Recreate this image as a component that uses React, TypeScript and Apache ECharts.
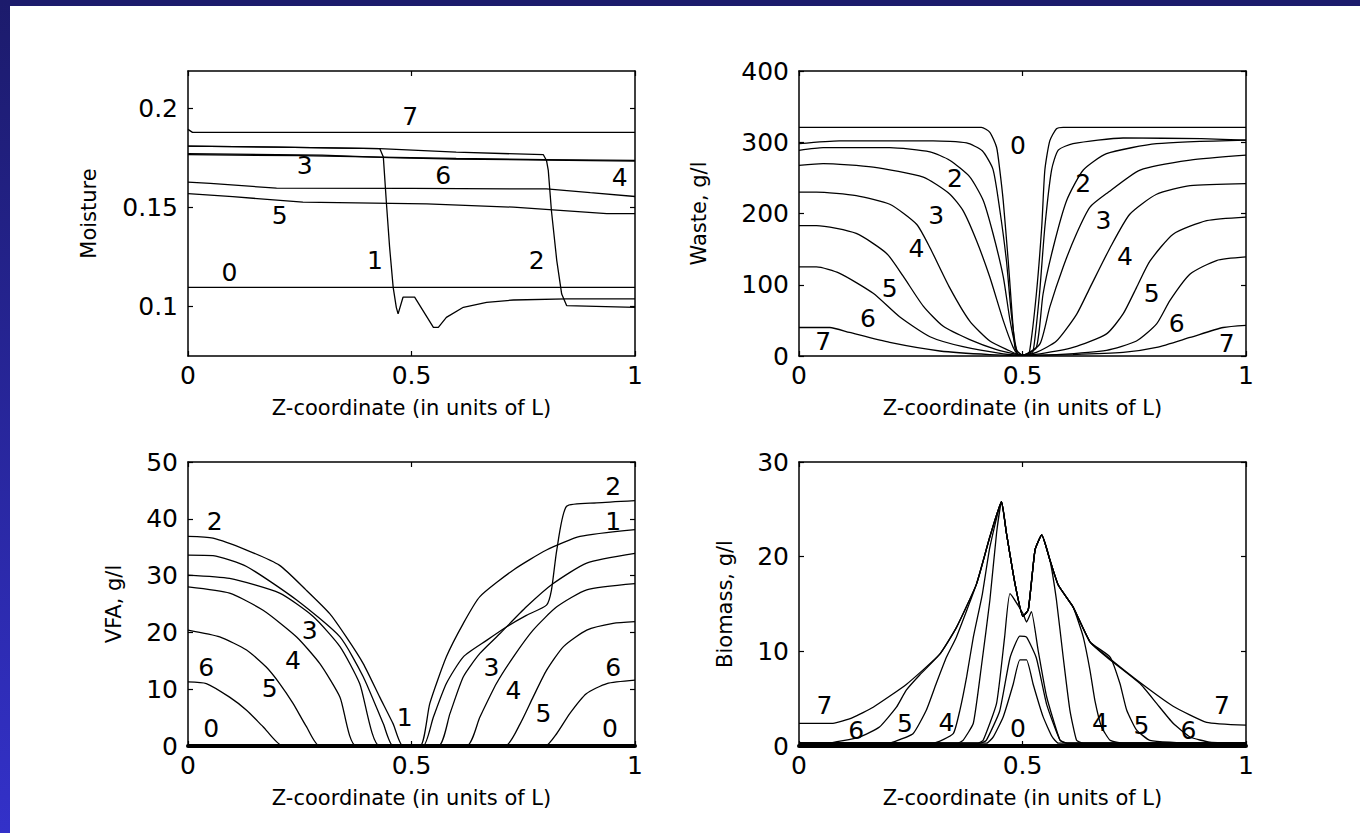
import React, { useEffect, useRef } from "react";
import * as echarts from "echarts";

// ---------- data ----------
const xTicks = [0, 0.5, 1];
const moistureTicks = [0.1, 0.15, 0.2];
const wasteTicks = [0, 100, 200, 300, 400];
const vfaTicks = [0, 10, 20, 30, 40, 50];
const biomassTicks = [0, 10, 20, 30];

// Moisture
const moisture0 = [[0, 0.1097], [1, 0.1097]];
const moisture1 = [[0, 0.181], [0.2, 0.1805], [0.35, 0.18], [0.429, 0.1798], [0.437, 0.1755], [0.44, 0.1654], [0.444, 0.1519], [0.451, 0.13], [0.459, 0.1097], [0.466, 0.0996], [0.47, 0.0963], [0.481, 0.1047], [0.507, 0.1047], [0.549, 0.0895], [0.56, 0.0895], [0.578, 0.0945], [0.616, 0.0996], [0.668, 0.1021], [0.728, 0.1033], [0.847, 0.1039], [1, 0.1039]];
const moisture2 = [[0, 0.181], [0.2, 0.1805], [0.429, 0.1798], [0.6, 0.178], [0.795, 0.1767], [0.802, 0.1738], [0.806, 0.1688], [0.813, 0.1485], [0.825, 0.1232], [0.836, 0.1063], [0.847, 0.1005], [1, 0.0996]];
const moisture3 = [[0, 0.1767], [0.25, 0.1762], [0.43, 0.1755], [0.6, 0.1748], [0.8, 0.1742], [1, 0.1738]];
const moisture4 = [[0, 0.1772], [0.3, 0.1765], [0.45, 0.1752], [0.6, 0.1745], [0.8, 0.174], [1, 0.1735]];
const moisture5 = [[0, 0.157], [0.1, 0.1555], [0.257, 0.1527], [0.534, 0.1519], [0.728, 0.1502], [0.937, 0.1469], [1, 0.1469]];
const moisture6 = [[0, 0.1629], [0.05, 0.1622], [0.198, 0.1598], [0.5, 0.1597], [0.802, 0.1594], [0.9, 0.1575], [1, 0.1556]];
const moisture7 = [[0, 0.1895], [0.01, 0.188], [1, 0.188]];
const moistureLabels = [[0.497, 0.1958, "7"], [0.261, 0.1713, "3"], [0.571, 0.1662, "6"], [0.966, 0.1654, "4"], [0.205, 0.146, "5"], [0.418, 0.1232, "1"], [0.78, 0.1232, "2"], [0.093, 0.1173, "0"]];

// Waste
const waste0 = [[0, 321], [0.408, 321], [0.427, 314], [0.442, 293], [0.449, 262], [0.457, 217], [0.468, 134], [0.475, 74], [0.483, 12], [0.49, 2], [0.5, 1], [0.51, 2], [0.516, 7], [0.531, 87], [0.543, 181], [0.55, 261], [0.561, 302], [0.576, 319], [0.591, 321], [1, 321]];
const waste1 = [[0, 298], [0.09, 302], [0.3, 302], [0.375, 299], [0.41, 288], [0.434, 262], [0.449, 206], [0.464, 134], [0.475, 59], [0.487, 8], [0.5, 1], [0.516, 3], [0.524, 7], [0.538, 87], [0.55, 181], [0.565, 261], [0.58, 289], [0.613, 298], [0.725, 306], [0.9, 305], [1, 303]];
const waste2 = [[0, 288.7], [0.054, 292.5], [0.203, 292.5], [0.293, 286.5], [0.337, 274.8], [0.382, 251.4], [0.412, 218.6], [0.434, 171.9], [0.457, 111.1], [0.472, 50.3], [0.487, 8], [0.5, 1], [0.531, 12], [0.546, 87], [0.569, 153], [0.599, 218.6], [0.636, 261], [0.688, 284], [0.8, 298], [1, 303]];
const waste3 = [[0, 267.6], [0.054, 270], [0.166, 265], [0.278, 251], [0.337, 227.5], [0.367, 204], [0.397, 162], [0.427, 110.5], [0.457, 49.7], [0.479, 12.3], [0.49, 2], [0.5, 1], [0.539, 17], [0.561, 68.6], [0.591, 125], [0.621, 172], [0.651, 209], [0.688, 228], [0.763, 261], [0.875, 275], [1, 282]];
const waste4 = [[0, 230], [0.039, 230], [0.128, 225], [0.203, 213], [0.263, 185], [0.293, 152], [0.337, 96], [0.382, 49], [0.427, 21], [0.472, 7], [0.49, 2], [0.5, 1], [0.531, 5], [0.576, 21], [0.621, 58.5], [0.651, 96], [0.696, 152], [0.74, 199], [0.8, 227], [0.875, 239], [1, 242]];
const waste5 = [[0, 183], [0.039, 183], [0.128, 172], [0.196, 144], [0.233, 112], [0.278, 70], [0.322, 42], [0.382, 23], [0.442, 9], [0.49, 2], [0.5, 1], [0.539, 3], [0.613, 12], [0.688, 31], [0.725, 59], [0.755, 96], [0.785, 133], [0.837, 171], [0.912, 190], [1, 195]];
const waste6 = [[0, 125], [0.039, 125], [0.091, 116], [0.166, 88], [0.225, 55], [0.293, 27], [0.367, 13], [0.457, 3], [0.5, 1], [0.576, 2], [0.688, 8], [0.755, 21], [0.8, 45], [0.83, 78], [0.875, 115], [0.934, 134], [1, 139]];
const waste7 = [[0, 40], [0.069, 40], [0.113, 33], [0.203, 19], [0.315, 7], [0.427, 2], [0.5, 1], [0.613, 2], [0.725, 5], [0.8, 12], [0.875, 26], [0.949, 40], [1, 43]];
const wasteLabels = [[0.49, 295.7, "0"], [0.349, 249, "2"], [0.636, 242, "2"], [0.307, 197, "3"], [0.681, 190, "3"], [0.263, 150.7, "4"], [0.729, 139, "4"], [0.203, 94.6, "5"], [0.789, 87.5, "5"], [0.154, 52.5, "6"], [0.845, 45.5, "6"], [0.054, 19.7, "7"], [0.957, 17.3, "7"]];

// VFA
const vfa0 = [[0, 0], [1, 0]];
const vfa1 = [[0, 33.6], [0.056, 33.5], [0.131, 31.6], [0.243, 25.7], [0.34, 19.2], [0.392, 12.2], [0.437, 3.9], [0.459, 0], [0.519, 0], [0.541, 7.5], [0.578, 15.7], [0.616, 21.6], [0.653, 26.3], [0.728, 31], [0.802, 34.5], [0.877, 36.9], [1, 38.1]];
const vfa2 = [[0, 36.9], [0.056, 36.6], [0.131, 34.5], [0.205, 31.8], [0.265, 27.4], [0.317, 23.3], [0.354, 19.2], [0.392, 14.5], [0.429, 8.6], [0.459, 3.9], [0.481, 0], [0.526, 0], [0.549, 5.1], [0.578, 11], [0.616, 15.7], [0.668, 18.6], [0.713, 21], [0.757, 23], [0.802, 24.8], [0.813, 27.4], [0.825, 34.5], [0.847, 42.2], [0.914, 42.8], [1, 43.2]];
const vfa3 = [[0, 30.1], [0.093, 29.5], [0.205, 26.9], [0.28, 22.8], [0.34, 17.5], [0.384, 11], [0.429, 0], [0.56, 0], [0.586, 5.7], [0.616, 12.2], [0.653, 16.3], [0.698, 19.8], [0.757, 24.5], [0.817, 28.6], [0.892, 32.2], [1, 33.9]];
const vfa4 = [[0, 28], [0.093, 26.9], [0.168, 23.9], [0.243, 19.2], [0.295, 14.5], [0.34, 8.6], [0.377, 0], [0.623, 0], [0.653, 5.1], [0.69, 11], [0.728, 15.7], [0.772, 20.4], [0.825, 24.5], [0.892, 27.5], [1, 28.6]];
const vfa5 = [[0, 20.4], [0.071, 19.2], [0.131, 16.9], [0.175, 13.9], [0.205, 11], [0.235, 7.5], [0.265, 3.4], [0.295, 0], [0.709, 0], [0.743, 3.9], [0.772, 8.6], [0.802, 13.3], [0.84, 17.5], [0.892, 20.4], [0.951, 21.6], [1, 21.9]];
const vfa6 = [[0, 11.3], [0.041, 11], [0.093, 8.6], [0.131, 6.3], [0.168, 3.4], [0.213, 0], [0.799, 0], [0.825, 2.2], [0.854, 5.7], [0.891, 9.2], [0.937, 11], [1, 11.6]];
const vfaLabels = [[0.06, 39.5, "2"], [0.951, 45.7, "2"], [0.951, 39.5, "1"], [0.272, 20.4, "3"], [0.235, 15.1, "4"], [0.183, 10.1, "5"], [0.041, 13.9, "6"], [0.052, 3.1, "0"], [0.485, 5.1, "1"], [0.679, 13.9, "3"], [0.728, 9.8, "4"], [0.795, 5.7, "5"], [0.951, 13.9, "6"], [0.944, 3.1, "0"]];

// Biomass
const bio0 = [[0, 0.3], [0.42, 0.3], [0.435, 1], [0.457, 3.1], [0.479, 6.5], [0.494, 9.1], [0.509, 9.1], [0.524, 6.5], [0.546, 3.1], [0.566, 1], [0.58, 0.3], [1, 0.3]];
const bio1 = [[0, 0.3], [0.405, 0.3], [0.419, 0.6], [0.449, 3.7], [0.472, 9.3], [0.494, 11.6], [0.509, 11.5], [0.531, 9.3], [0.554, 4.4], [0.584, 0.6], [0.6, 0.3], [1, 0.3]];
const bio2 = [[0, 0.3], [0.4, 0.3], [0.412, 0.6], [0.442, 4.5], [0.46, 11.5], [0.472, 16.1], [0.501, 14], [0.509, 13.1], [0.52, 14.2], [0.535, 10.1], [0.554, 5.2], [0.584, 0.6], [0.6, 0.3], [1, 0.3]];
const bio3 = [[0, 0.3], [0.355, 0.3], [0.367, 0.6], [0.39, 2.4], [0.408, 8.4], [0.427, 15.4], [0.442, 22.5], [0.453, 25.8], [0.464, 22.5], [0.483, 17.2], [0.501, 13.7], [0.513, 14.4], [0.528, 20.7], [0.543, 22.3], [0.561, 19.7], [0.576, 15.4], [0.591, 9.4], [0.606, 3.8], [0.621, 0.6], [0.636, 0.3], [1, 0.3]];
const bio4 = [[0, 0.3], [0.3, 0.3], [0.345, 1.3], [0.36, 3.8], [0.375, 7.3], [0.39, 11.5], [0.41, 16], [0.427, 21], [0.453, 25.8], [0.464, 22.5], [0.483, 17.2], [0.501, 13.7], [0.513, 14.4], [0.528, 20.7], [0.543, 22.3], [0.561, 19.7], [0.58, 17], [0.613, 14.7], [0.621, 13.7], [0.636, 11.5], [0.651, 8], [0.662, 4.8], [0.677, 2], [0.696, 0.6], [0.725, 0.3], [1, 0.3]];
const bio5 = [[0, 0.3], [0.2, 0.3], [0.21, 0.4], [0.255, 1.3], [0.285, 3.8], [0.307, 6.6], [0.33, 9.4], [0.352, 11.5], [0.397, 17.1], [0.427, 22.1], [0.453, 25.8], [0.464, 22.5], [0.483, 17.2], [0.501, 13.7], [0.513, 14.4], [0.528, 20.7], [0.543, 22.3], [0.561, 19.7], [0.58, 17], [0.613, 14.7], [0.651, 11], [0.696, 9.4], [0.718, 6.6], [0.733, 3.8], [0.755, 1.7], [0.785, 0.6], [0.875, 0.3], [1, 0.3]];
const bio6 = [[0, 0.3], [0.061, 0.3], [0.136, 0.95], [0.18, 2], [0.218, 4.1], [0.24, 5.9], [0.27, 7.5], [0.315, 9.7], [0.352, 12.5], [0.397, 17.1], [0.427, 22.1], [0.453, 25.8], [0.464, 22.5], [0.483, 17.2], [0.501, 13.7], [0.513, 14.4], [0.528, 20.7], [0.543, 22.3], [0.561, 19.7], [0.58, 17], [0.613, 14.7], [0.651, 11], [0.688, 9.4], [0.763, 6.6], [0.8, 4.5], [0.837, 2.4], [0.875, 0.95], [0.919, 0.4], [1, 0.3]];
const bio7 = [[0, 2.4], [0.076, 2.4], [0.12, 3], [0.166, 4.1], [0.24, 6.5], [0.315, 9.7], [0.352, 12.5], [0.397, 17.1], [0.427, 22.1], [0.453, 25.8], [0.464, 22.5], [0.483, 17.2], [0.501, 13.7], [0.513, 14.4], [0.528, 20.7], [0.543, 22.3], [0.561, 19.7], [0.58, 17], [0.613, 14.7], [0.651, 11], [0.688, 9.5], [0.763, 6.7], [0.837, 4.2], [0.912, 2.5], [1, 2.2]];
const bioLabels = [[0.057, 4.3, "7"], [0.128, 1.66, "6"], [0.237, 2.4, "5"], [0.33, 2.5, "4"], [0.49, 1.8, "0"], [0.673, 2.5, "4"], [0.766, 2.2, "5"], [0.871, 1.66, "6"], [0.946, 4.3, "7"]];

const xName = "Z-coordinate (in units of L)";

const panels = [
  { yName: "Moisture", min: 0.075, max: 0.219, ticks: moistureTicks, curves: [moisture0, moisture1, moisture2, moisture3, moisture4, moisture5, moisture6, moisture7], labels: moistureLabels },
  { yName: "Waste, g/l", min: 0, max: 400, ticks: wasteTicks, curves: [waste0, waste1, waste2, waste3, waste4, waste5, waste6, waste7], labels: wasteLabels },
  { yName: "VFA, g/l", min: 0, max: 50, ticks: vfaTicks, curves: [vfa0, vfa1, vfa2, vfa3, vfa4, vfa5, vfa6], labels: vfaLabels },
  { yName: "Biomass, g/l", min: 0, max: 30, ticks: biomassTicks, curves: [bio0, bio1, bio2, bio3, bio4, bio5, bio6, bio7], labels: bioLabels },
];

// ---------- layout / style ----------
const layouts = [
  { left: 188, top: 71, width: 447, height: 285, nameGap: 89, bottomLine: 1.5, smooth: 0 },
  { left: 799, top: 71, width: 447, height: 285, nameGap: 90, bottomLine: 1.5, smooth: 0.2 },
  { left: 188, top: 462, width: 447, height: 284, nameGap: 64, bottomLine: 4, smooth: 0.2 },
  { left: 799, top: 462, width: 447, height: 284, nameGap: 64, bottomLine: 4, smooth: 0.15 },
];
const FONT = "DejaVu Sans";
const BLACK = "#000";

function buildOption() {
  const grid: any[] = [];
  const xAxis: any[] = [];
  const yAxis: any[] = [];
  const series: any[] = [];
  panels.forEach((p, i) => {
    const L = layouts[i];
    grid.push({ left: L.left, top: L.top, width: L.width, height: L.height, containLabel: false });
    const tick = { show: true, inside: true, length: 5, lineStyle: { color: BLACK, width: 1.2 } };
    xAxis.push({
      type: "value", gridIndex: i, position: "bottom", min: 0, max: 1, interval: 0.5,
      name: xName, nameLocation: "middle", nameGap: 41,
      nameTextStyle: { color: BLACK, fontSize: 21, fontFamily: FONT },
      axisLine: { show: true, onZero: false, lineStyle: { color: BLACK, width: L.bottomLine } },
      axisTick: { ...tick, customValues: xTicks },
      axisLabel: { color: BLACK, fontSize: 25, fontFamily: FONT, margin: 7, customValues: xTicks, formatter: (v: number) => String(v) },
      splitLine: { show: false },
    });
    xAxis.push({
      type: "value", gridIndex: i, position: "top", min: 0, max: 1, interval: 0.5,
      axisLine: { show: true, onZero: false, lineStyle: { color: BLACK, width: 1.5 } },
      axisTick: { ...tick, customValues: xTicks },
      axisLabel: { show: false },
      splitLine: { show: false },
    });
    yAxis.push({
      type: "value", gridIndex: i, position: "left", min: p.min, max: p.max,
      name: p.yName, nameLocation: "middle", nameGap: L.nameGap,
      nameTextStyle: { color: BLACK, fontSize: 21, fontFamily: FONT },
      axisLine: { show: true, onZero: false, lineStyle: { color: BLACK, width: 1.5 } },
      axisTick: { ...tick, customValues: p.ticks },
      axisLabel: { color: BLACK, fontSize: 25, fontFamily: FONT, margin: 10, customValues: p.ticks, formatter: (v: number) => String(v) },
      splitLine: { show: false },
    });
    yAxis.push({
      type: "value", gridIndex: i, position: "right", min: p.min, max: p.max,
      axisLine: { show: true, onZero: false, lineStyle: { color: BLACK, width: 1.5 } },
      axisTick: { ...tick, customValues: p.ticks },
      axisLabel: { show: false },
      splitLine: { show: false },
    });
    p.curves.forEach((c) => {
      series.push({
        type: "line", xAxisIndex: 2 * i, yAxisIndex: 2 * i, data: c,
        symbol: "none", showSymbol: false, silent: true,
        smooth: L.smooth || false,
        lineStyle: { color: BLACK, width: 1.3 }, z: 3,
      });
    });
    series.push({
      type: "scatter", xAxisIndex: 2 * i, yAxisIndex: 2 * i, silent: true,
      data: p.labels.map((l) => ({ name: l[2], value: [l[0], l[1]] })),
      symbolSize: 0, itemStyle: { color: BLACK, opacity: 1 },
      label: { show: true, position: "inside", formatter: "{b}", color: BLACK, opacity: 1, textBorderWidth: 0, fontSize: 25, fontFamily: FONT },
      z: 4,
    });
  });
  return {
    animation: false,
    backgroundColor: "#fff",
    grid, xAxis, yAxis, series,
    graphic: [
      { type: "rect", left: 0, top: 0, shape: { width: 1360, height: 6 }, style: { fill: "#1c1b6c" }, silent: true },
      {
        type: "rect", left: 0, top: 0, shape: { width: 10, height: 833 }, silent: true,
        style: { fill: new echarts.graphic.LinearGradient(0, 0, 0, 1, [{ offset: 0, color: "#1c1b6c" }, { offset: 1, color: "#3331c9" }]) },
      },
    ],
  };
}

export default function App() {
  const ref = useRef<HTMLDivElement>(null);
  useEffect(() => {
    document.body.style.margin = "0";
    const chart = echarts.init(ref.current!, undefined, { renderer: "svg" });
    chart.setOption(buildOption() as any);
    return () => chart.dispose();
  }, []);
  return (
    <div style={{ position: "absolute", left: 0, top: 0, width: 1360, height: 833, background: "#fff" }}>
      <div ref={ref} style={{ width: 1360, height: 833 }} />
    </div>
  );
}
